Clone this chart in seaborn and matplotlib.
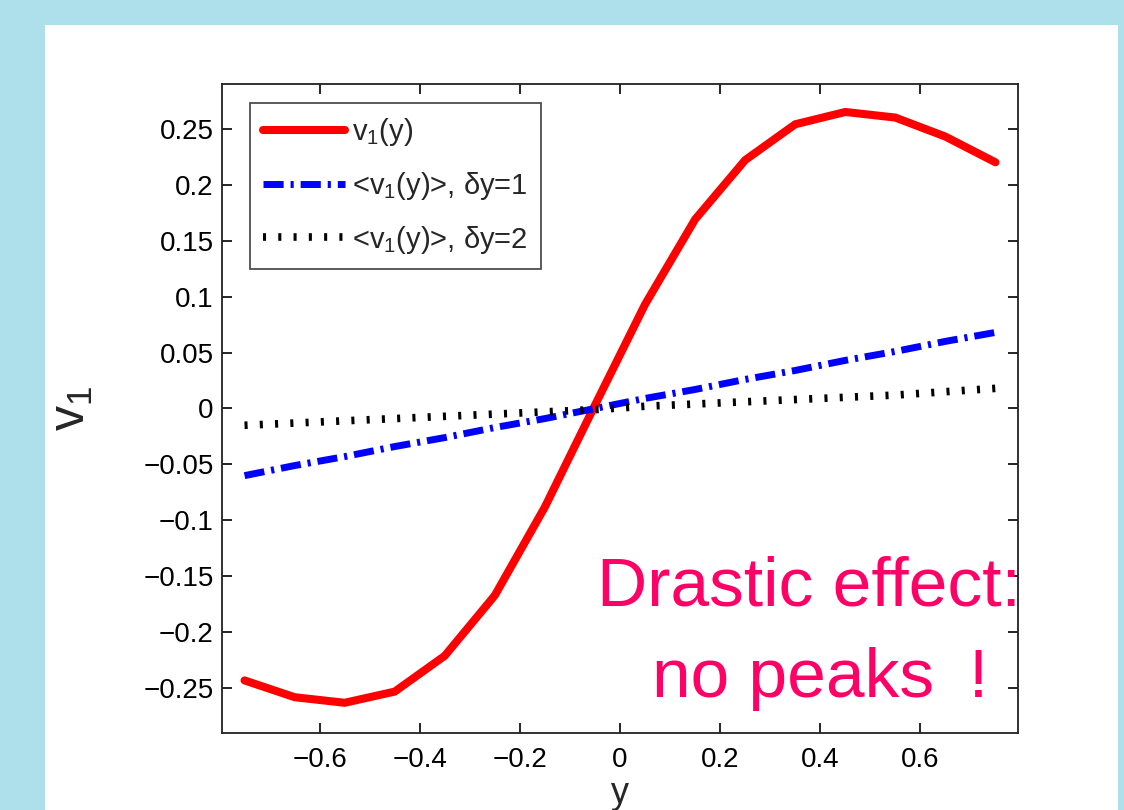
import numpy as np
import pandas as pd
import matplotlib
matplotlib.use("Agg")
import matplotlib.pyplot as plt
from matplotlib.patches import Rectangle
import seaborn as sns

# ---- data ----
y_pos = [-0.75, -0.65, -0.55, -0.45, -0.35, -0.25, -0.15, -0.05,
         0.05, 0.15, 0.25, 0.35, 0.45, 0.55, 0.65, 0.75]
v1 = [-0.243, -0.258, -0.263, -0.253, -0.221, -0.167, -0.088, 0.003,
      0.093, 0.169, 0.222, 0.254, 0.265, 0.260, 0.243, 0.220]
v1_avg_dy1 = [-0.060, -0.051, -0.043, -0.034, -0.026, -0.017, -0.009, 0.000,
              0.009, 0.017, 0.026, 0.034, 0.043, 0.051, 0.060, 0.068]
v1_avg_dy2 = [-0.015, -0.013, -0.011, -0.009, -0.007, -0.005, -0.003, -0.001,
              0.002, 0.004, 0.006, 0.008, 0.010, 0.012, 0.015, 0.018]
series_labels = [r'v$_1$(y)', r'<v$_1$(y)>, δy=1', r'<v$_1$(y)>, δy=2']
xticks = [-0.6, -0.4, -0.2, 0, 0.2, 0.4, 0.6]
yticks = [-0.25, -0.2, -0.15, -0.1, -0.05, 0, 0.05, 0.1, 0.15, 0.2, 0.25]
annotation_lines = ["Drastic effect:", "no peaks\u2002!"]

sns.set_theme(style="ticks")
plt.rcParams['font.family'] = ['Liberation Sans', 'DejaVu Sans']
plt.rcParams['mathtext.default'] = 'regular'
plt.rcParams['mathtext.fontset'] = 'custom'
plt.rcParams['mathtext.rm'] = 'Liberation Sans'

fig = plt.figure(figsize=(11.24, 8.10), dpi=100)
fig.patch.set_facecolor('#ade0ea')
# white slide panel
panel = Rectangle((45 / 1124, 0), (1118 - 45) / 1124, 1 - 25 / 810,
                  transform=fig.transFigure, facecolor='white',
                  edgecolor='none', zorder=-10)
fig.patches.append(panel)

ax = fig.add_axes([222 / 1124, 1 - 733 / 810, (1018 - 222) / 1124, (733 - 84) / 810])
ax.set_zorder(1)
ax.set_facecolor('white')

df = pd.DataFrame({'y': y_pos, 'a': v1, 'b': v1_avg_dy1, 'c': v1_avg_dy2})

sns.lineplot(data=df, x='y', y='a', ax=ax, color='#ff0000', lw=5.8,
             label=series_labels[0], solid_joinstyle='miter')
sns.lineplot(data=df, x='y', y='b', ax=ax, color='#0000ff', lw=5.0,
             label=series_labels[1])
sns.lineplot(data=df, x='y', y='c', ax=ax, color='black', lw=5.5,
             label=series_labels[2])
lines = ax.get_lines()
lines[1].set_dashes([2.9, 1.0, 0.45, 1.0])
lines[1].set_dash_capstyle('butt')
lines[2].set_dashes([0.4, 1.6])
lines[2].set_dash_capstyle('butt')

ax.set_xlim(-0.795, 0.795)
ax.set_ylim(-0.29, 0.29)
ax.set_xticks(xticks)
ax.set_yticks(yticks)
ax.set_xticklabels([('%g' % t).replace('-', '\u2212') for t in xticks])
ax.set_yticklabels([('%g' % t).replace('-', '\u2212') for t in yticks])
ax.tick_params(direction='in', length=7, width=1.2, top=True, right=True,
               labelsize=20, colors='black')
ax.tick_params(axis='x', pad=10)
ax.tick_params(axis='y', pad=6)
for s in ax.spines.values():
    s.set_visible(True)
    s.set_linewidth(1.3)
    s.set_color('#222222')

ax.set_xlabel('y', fontsize=26)
ax.set_ylabel(r'v$_1$', fontsize=36)
ax.xaxis.set_label_coords(0.5, -0.066)
ax.yaxis.set_label_coords(-0.16, 0.50)

leg = ax.legend(loc='upper left', bbox_to_anchor=(0.035, 0.971), fontsize=21,
                frameon=True, fancybox=False, edgecolor='#222222',
                handlelength=2.8, handletextpad=0.25, borderpad=0.45,
                labelspacing=0.75, borderaxespad=0)
leg.get_frame().set_linewidth(1.3)

pink = '#ff0066'
fig.text(597 / 1124, 1 - 606 / 810, annotation_lines[0], fontsize=50,
         color=pink, ha='left', va='baseline', zorder=10)
fig.text(652 / 1124, 1 - 697 / 810, annotation_lines[1], fontsize=50,
         color=pink, ha='left', va='baseline', zorder=10)

fig.savefig('out.png', dpi=100, facecolor=fig.get_facecolor())
